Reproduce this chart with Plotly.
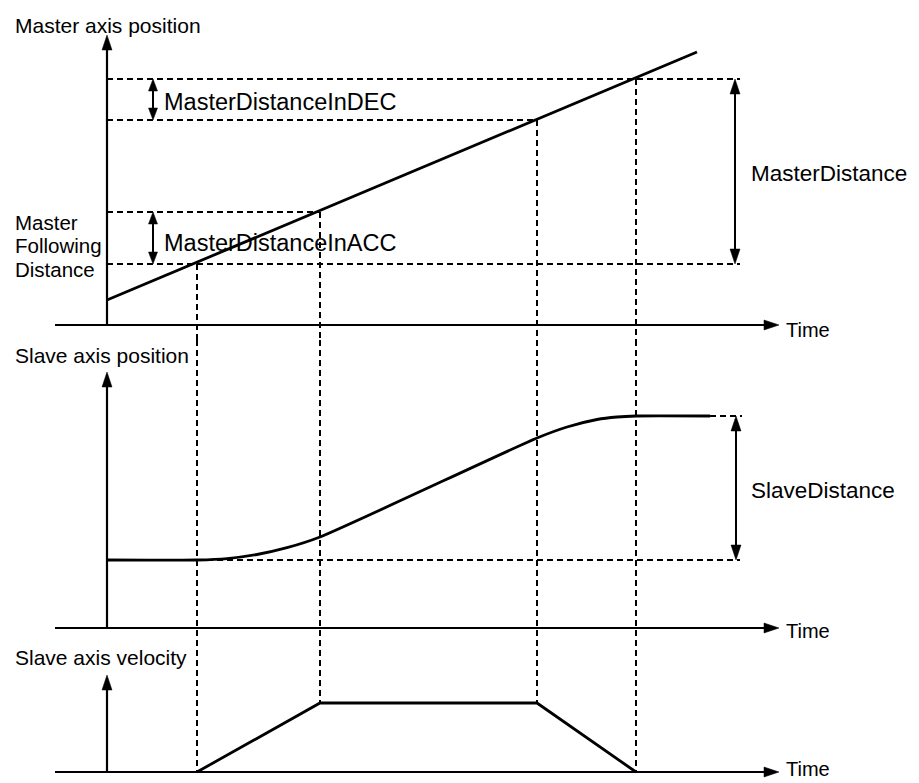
import plotly.graph_objects as go

# ---------------- data (time units / position units) ----------------
EVENT_T = [9.0, 21.3, 43.0, 52.9]          # follow start, end ACC, start DEC, end
MASTER_T = [0.0, 59.0]
MASTER_POS = [2.5, 27.3]
MASTER_LEVELS = [6.1, 11.3, 20.5, 24.6]     # master position at each event

SLAVE_T = [0.0, 9.0, 12.0, 15.0, 18.0, 21.3, 43.0, 46.0, 49.0, 51.0, 52.9, 60.3]
SLAVE_POS = [6.8, 6.8, 6.94, 7.35, 8.03, 9.1, 19.0, 20.1, 20.85, 21.1, 21.2, 21.2]

VEL_T = [9.0, 21.3, 43.0, 52.9]
VEL = [0.0, 6.9, 6.9, 0.0]

AXIS_X = [-5.2, 67.2]        # time axis extent
AXIS_TOP = [29.0, 25.6, 9.7]  # vertical axis tops per panel
DIM_X = 62.8                 # dimension arrow x (right)
SMALL_DIM_X = 4.6            # small dimension arrows x
DASH_END = 63.3

LABELS_AXIS = ["Master axis position", "Slave axis position", "Slave axis velocity"]

# ---------------- figure ----------------
fig = go.Figure()
BLACK = "black"
fig.add_trace(go.Scatter(x=MASTER_T, y=MASTER_POS, mode="lines",
                         line=dict(color=BLACK, width=2.8), xaxis="x", yaxis="y", hoverinfo="skip"))
fig.add_trace(go.Scatter(x=SLAVE_T, y=SLAVE_POS, mode="lines", line_shape="spline",
                         line=dict(color=BLACK, width=2.8, smoothing=0.6), xaxis="x", yaxis="y2", hoverinfo="skip"))
fig.add_trace(go.Scatter(x=VEL_T, y=VEL, mode="lines",
                         line=dict(color=BLACK, width=2.8), xaxis="x", yaxis="y3", hoverinfo="skip"))

shapes = []
HL, HW = 1.5, 0.5
DASH = "6px,4px"


def line(x0, y0, x1, y1, yref, dash=None, width=2.0):
    shapes.append(dict(type="line", xref="x", yref=yref, x0=x0, y0=y0, x1=x1, y1=y1,
                       line=dict(color=BLACK, width=width, dash=dash or "solid")))


def head(x, y, d, yref, hl=HL, hw=HW):
    if d == "up":
        p = f"M {x},{y} L {x-hw},{y-hl} L {x+hw},{y-hl} Z"
    elif d == "down":
        p = f"M {x},{y} L {x-hw},{y+hl} L {x+hw},{y+hl} Z"
    else:
        p = f"M {x},{y} L {x-hl},{y-hw} L {x-hl},{y+hw} Z"
    shapes.append(dict(type="path", xref="x", yref=yref, path=p,
                       fillcolor=BLACK, line=dict(color=BLACK, width=0.5)))


def dim_arrow(x, y0, y1, yref, hl=HL, hw=HW):
    line(x, y0 + hl * 0.8, x, y1 - hl * 0.8, yref, width=2.0)
    head(x, y1, "up", yref, hl, hw)
    head(x, y0, "down", yref, hl, hw)


yrefs = ["y", "y2", "y3"]
ranges = [[-1.5, 31.7], [-1.2, 28.8], [-1.1, 13.2]]

# axes
for i, yr in enumerate(yrefs):
    line(AXIS_X[0], 0, AXIS_X[1] - HL * 0.8, 0, yr, width=2.2)
    head(AXIS_X[1], 0, "right", yr)
    line(0, 0, 0, AXIS_TOP[i] - HL * 0.8, yr, width=2.2)
    head(0, AXIS_TOP[i], "up", yr)

# master panel dashed lines
line(0, MASTER_LEVELS[3], DASH_END, MASTER_LEVELS[3], "y", DASH)
line(0, MASTER_LEVELS[2], EVENT_T[2], MASTER_LEVELS[2], "y", DASH)
line(0, MASTER_LEVELS[1], EVENT_T[1], MASTER_LEVELS[1], "y", DASH)
line(0, MASTER_LEVELS[0], DASH_END, MASTER_LEVELS[0], "y", DASH)

# vertical dashed lines through panels
for k, t in enumerate(EVENT_T):
    line(t, MASTER_LEVELS[k], t, ranges[0][0], "y", DASH)
    line(t, ranges[1][1], t, ranges[1][0], "y2", DASH)
    line(t, ranges[2][1], t, VEL[k], "y3", DASH)

# slave panel dashed lines
line(EVENT_T[0], SLAVE_POS[0], DASH_END, SLAVE_POS[0], "y2", DASH)
line(SLAVE_T[-1], SLAVE_POS[-1], DASH_END + 0.2, SLAVE_POS[-1], "y2", DASH)

# dimension arrows
dim_arrow(DIM_X, MASTER_LEVELS[0], MASTER_LEVELS[3], "y")
dim_arrow(SMALL_DIM_X, MASTER_LEVELS[2], MASTER_LEVELS[3], "y", hl=1.2, hw=0.45)
dim_arrow(SMALL_DIM_X, MASTER_LEVELS[0], MASTER_LEVELS[1], "y", hl=1.2, hw=0.45)
dim_arrow(DIM_X + 0.1, SLAVE_POS[0], SLAVE_POS[-1], "y2")

FONT = "Liberation Sans, Arial, Helvetica, sans-serif"
ann = []


def text(x, y, s, yref, size=21):
    ann.append(dict(x=x, y=y, xref="x", yref=yref, text=s, showarrow=False,
                    xanchor="left", yanchor="middle", font=dict(family=FONT, size=size, color=BLACK)))


text(-9.45, 30.0, LABELS_AXIS[0], "y")
text(-9.45, 27.3, LABELS_AXIS[1], "y2")
text(-9.45, 11.5, LABELS_AXIS[2], "y3")
for yr, yy in zip(yrefs, [-0.5, -0.3, 0.3]):
    text(67.7, yy, "Time", yr, 20)
text(-9.45, 10.3, "Master", "y", 20.5)
text(-9.45, 7.95, "Following", "y", 20.5)
text(-9.45, 5.6, "Distance", "y", 20.5)
text(5.5, 22.3, "MasterDistanceInDEC", "y", 23.5)
text(5.5, 8.2, "MasterDistanceInACC", "y", 23.5)
text(64.2, 15.2, "MasterDistance", "y", 22.5)
text(64.2, 13.8, "SlaveDistance", "y2", 22.5)

# the page body adds an 8px offset; the figure covers the window minus that offset
W, H = 911, 775
ax_common = dict(visible=False, fixedrange=True)
fig.update_layout(
    width=W, height=H,
    margin=dict(l=0, r=0, t=0, b=0),
    paper_bgcolor="white", plot_bgcolor="white",
    showlegend=False,
    xaxis=dict(range=[-9.9, 81.2], domain=[0, 1], **ax_common),
    yaxis=dict(range=ranges[0], domain=[1 - 332 / H, 1], anchor="x", **ax_common),
    yaxis2=dict(range=ranges[1], domain=[1 - 632 / H, 1 - 332 / H], anchor="x", **ax_common),
    yaxis3=dict(range=ranges[2], domain=[0, 1 - 632 / H], anchor="x", **ax_common),
    shapes=shapes,
    annotations=ann,
)

fig.write_html("out.html")
